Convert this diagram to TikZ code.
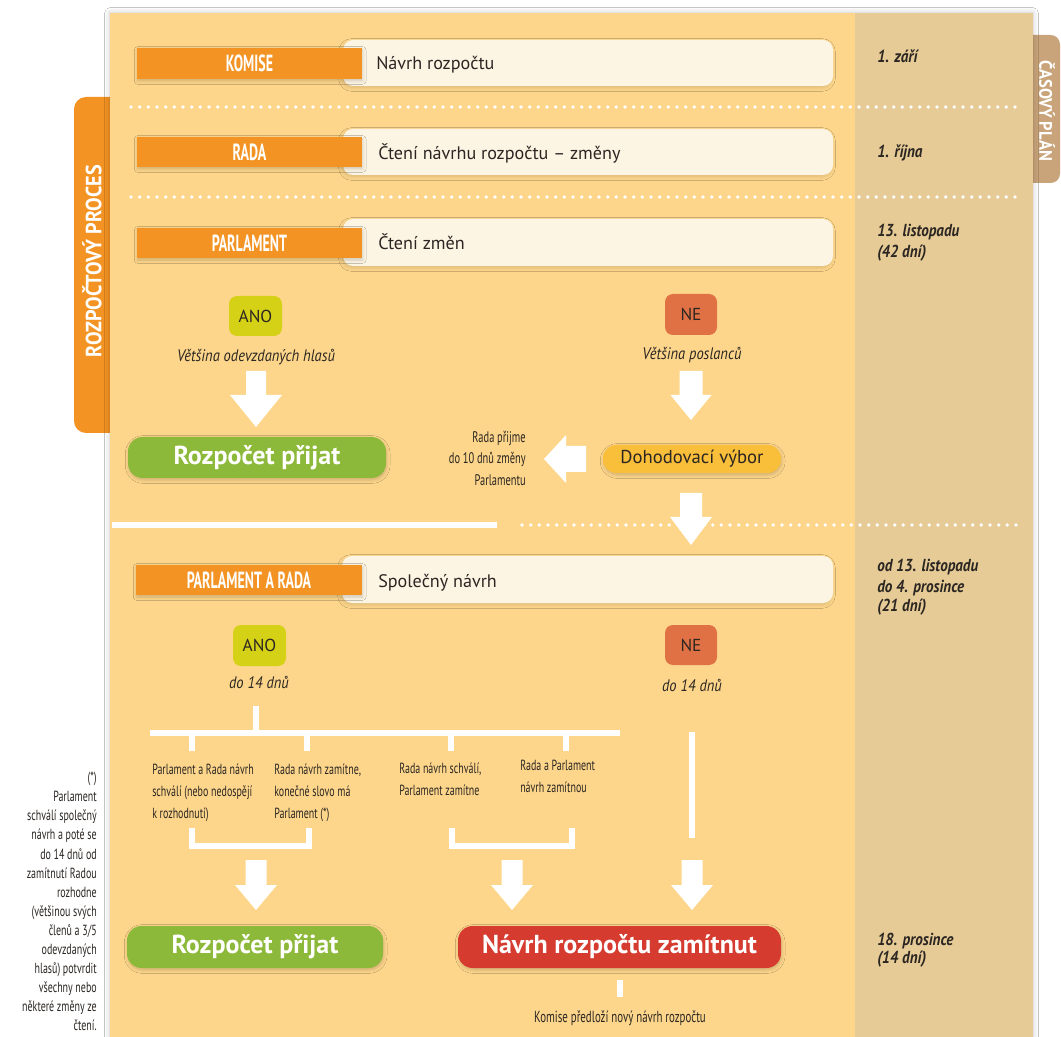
\documentclass[tikz,border=0pt]{standalone}
\usepackage{fontspec}
\setmainfont{PT Sans}
\newfontfamily\condfont[FakeStretch=0.68]{PT Sans}
\newfontfamily\barfont[FakeStretch=0.6]{PT Sans}
\newfontfamily\itfont[FakeStretch=0.87]{PT Sans}
\newfontfamily\tabfont[FakeStretch=0.92]{PT Sans}
\usetikzlibrary{shadows.blur}
\definecolor{panelC}{HTML}{FDD68B}
\definecolor{colC}{HTML}{E6CB96}
\definecolor{orangeC}{HTML}{F39323}
\definecolor{creamC}{HTML}{FDF5E4}
\definecolor{anoC}{HTML}{D5D116}
\definecolor{neC}{HTML}{E07145}
\definecolor{greenC}{HTML}{8DB93A}
\definecolor{redC}{HTML}{D63B30}
\definecolor{dohC}{HTML}{F9BE3A}
\definecolor{tanC}{HTML}{C9A47A}
\definecolor{txtC}{HTML}{2B2622}
\tikzset{pics/downarr/.style n args={4}{code={
  \fill[white] (-#1,0) -- (#1,0) -- (#1,#3) -- (#2,#3) -- (0,#4) -- (-#2,#3) -- (-#1,#3) -- cycle;}}}
\begin{document}
\begin{tikzpicture}[x=0.75pt,y=-0.75pt,
  sz/.style 2 args={minimum width=#1*0.75pt,minimum height=#2*0.75pt,inner sep=0pt,outer sep=0pt},
  shd/.style={blur shadow={shadow xshift=0.5pt,shadow yshift=-1.5pt,shadow blur radius=2.5pt,shadow opacity=18}},
  orangebar/.style={fill=orangeC,text=white,font=\barfont\bfseries\fontsize{17.5}{17.5}\selectfont,shd},
  creambox/.style={fill=creamC,rounded corners=7.5pt,blur shadow={shadow xshift=-0.8pt,shadow yshift=-1.5pt,shadow blur radius=2.5pt,shadow opacity=12}},
  boxtext/.style={anchor=base west,inner sep=0pt,text=txtC,font=\fontsize{13.6}{13.6}\selectfont},
  choice/.style={rounded corners=6pt,text=txtC,font=\fontsize{13}{13}\selectfont},
  note/.style={anchor=base,inner sep=0pt,text=txtC,font=\itfont\itshape\fontsize{12.5}{12.5}\selectfont},
  result/.style={rounded corners=11pt,text=white,font=\bfseries\fontsize{19.5}{19.5}\selectfont,shd},
  small/.style={inner sep=0pt,text=txtC,font=\condfont\fontsize{11}{16.5}\selectfont},
  datetxt/.style={anchor=base west,inner sep=0pt,text=txtC,font=\itfont\bfseries\itshape\fontsize{13}{13}\selectfont},
  wline/.style={draw=white,line width=4pt},
  dotline/.style={draw=white,line width=2.8pt,line cap=round,dash pattern=on 0pt off 6.5pt},
]
\useasboundingbox[fill=white] (0,0) rectangle (1061,1037);
% tabs and panel
\fill[orangeC,rounded corners=9pt] (74,97) rectangle (140,433);
\fill[tanC,rounded corners=7pt] (1000,35) rectangle (1060,183);
\fill[panelC,blur shadow={shadow xshift=0pt,shadow yshift=0pt,shadow blur radius=4pt,shadow opacity=22}] (110,13) rectangle (1033,1060);
\fill[colC] (855,13) rectangle (1033,1060);
\node[rotate=90,text=white,font=\tabfont\bfseries\fontsize{16.5}{16.5}\selectfont] (tabL) at (92,261) {ROZPOČTOVÝ PROCES};
\node[rotate=-90,text=white,font=\tabfont\bfseries\fontsize{13.5}{13.5}\selectfont] (tabR) at (1047,111) {ČASOVÝ PLÁN};
% row 1
\node[creambox,sz={490}{46}] (box1) at (588,63) {};
\node[orangebar,sz={225}{31}] (bar1) at (249.5,63.5) {KOMISE};
\node[boxtext] (txt1) at (376,70) {Návrh rozpočtu};
\node[datetxt] (date1) at (877,63) {1. září};
\coordinate (dotAl) at (131,107); \coordinate (dotAr) at (1022,107);
\draw[dotline] (dotAl) -- (dotAr);
% row 2
\node[creambox,sz={490}{46}] (box2) at (588,152) {};
\node[orangebar,sz={225}{30}] (bar2) at (249.5,152) {RADA};
\node[boxtext] (txt2) at (378,160) {Čtení návrhu rozpočtu – změny};
\node[datetxt] (date2) at (877,158) {1. října};
\coordinate (dotBl) at (131,197); \coordinate (dotBr) at (1022,197);
\draw[dotline] (dotBl) -- (dotBr);
% row 3
\node[creambox,sz={490}{47}] (box3) at (588,242.5) {};
\node[orangebar,sz={225}{30}] (bar3) at (249.5,243) {PARLAMENT};
\node[boxtext] (txt3) at (378,250) {Čtení změn};
\node[datetxt] (date3a) at (877,237) {13. listopadu};
\node[datetxt] (date3b) at (877,258) {(42 dní)};
% ANO / NE first vote
\node[choice,fill=anoC,sz={53}{40}] (ano1) at (255.5,316) {ANO};
\node[note] (ano1n) at (256,362) {Většina odevzdaných hlasů};
\coordinate (a1) at (256,371);
\pic at (a1) {downarr={10}{26}{24}{56}};
\node[result,fill=greenC,sz={258}{41}] (ok1) at (257,457.5) {Rozpočet přijat};
\node[choice,fill=neC,sz={52}{41}] (ne1) at (691,314.5) {NE};
\node[note] (ne1n) at (692,360) {Většina poslanců};
\coordinate (a2) at (691,371);
\pic at (a2) {downarr={11.5}{20.5}{24}{49}};
\node[fill=dohC,rounded corners=10pt,sz={178}{28},text=txtC,font=\fontsize{14}{14}\selectfont,shd] (doh) at (692,459) {Dohodovací výbor};
\coordinate (la) at (544,459);
\fill[white] (la) -- ++(22,-24) -- ++(0,11) -- ++(20,0) -- ++(0,26) -- ++(-20,0) -- ++(0,11) -- cycle;
\node[small,anchor=north east,align=right,font=\condfont\fontsize{11.5}{16}\selectfont] (radaN) at (526,431) {Rada přijme\\do 10 dnů změny\\Parlamentu};
% divider
\coordinate (divA) at (112,525); \coordinate (divB) at (497,525);
\coordinate (divC) at (522,525); \coordinate (divD) at (1022,525);
\draw[wline] (divA) -- (divB);
\draw[dotline] (divC) -- (divD);
\coordinate (a3) at (691,493);
\pic at (a3) {downarr={11}{21}{24}{52}};
% section 2
\node[creambox,sz={491}{47}] (box4) at (587.5,579.5) {};
\node[orangebar,sz={226}{30}] (bar4) at (249,580) {PARLAMENT A RADA};
\node[boxtext] (txt4) at (378,587) {Společný návrh};
\node[datetxt] (date4a) at (877,571) {od 13. listopadu};
\node[datetxt] (date4b) at (877,592) {do 4. prosince};
\node[datetxt] (date4c) at (877,611) {(21 dní)};
\node[choice,fill=anoC,sz={53}{41}] (ano2) at (259.5,645.5) {ANO};
\node[note] (ano2n) at (259,688) {do 14 dnů};
\node[choice,fill=neC,sz={52}{40}] (ne2) at (691,645) {NE};
\node[note] (ne2n) at (692,691) {do 14 dnů};
% tree
\coordinate (tTop) at (256,706); \coordinate (tMid) at (256,733);
\coordinate (tL) at (150,733); \coordinate (tR) at (620,733);
\draw[wline] (tTop) -- (tMid);
\draw[wline] (tL) -- (tR);
\foreach \x/\n in {192/b1,307/b2,451/b3,566/b4} {\coordinate (\n) at (\x,733); \draw[wline] (\n) -- ++(0,18);}
\node[small,anchor=north west,align=left] (c1) at (152,763.5) {Parlament a Rada návrh\\schválí (nebo nedospějí\\k rozhodnutí)};
\node[small,anchor=north west,align=left] (c2) at (274,763.5) {Rada návrh zamítne,\\konečné slovo má\\Parlament (*)};
\node[small,anchor=north west,align=left] (c3) at (399,762.5) {Rada návrh schválí,\\Parlament zamítne};
\node[small,anchor=north west,align=left] (c4) at (520,759.5) {Rada a Parlament\\návrh zamítnou};
\coordinate (k1a) at (192,828); \coordinate (k1b) at (309,828);
\draw[wline] (k1a) |- (250,846) -| (k1b);
\coordinate (k2a) at (452,828); \coordinate (k2b) at (572,828);
\draw[wline] (k2a) |- (510,846) -| (k2b);
\coordinate (v1) at (692,732); \coordinate (v2) at (692,838);
\draw[wline] (v1) -- (v2);
\coordinate (a4) at (256,860); \coordinate (a5) at (512,860); \coordinate (a6) at (692,860);
\pic at (a4) {downarr={10.5}{21}{25}{50}};
\pic at (a5) {downarr={10.5}{21}{25}{50}};
\pic at (a6) {downarr={10.5}{21}{25}{50}};
% results
\node[result,fill=greenC,sz={256}{42}] (ok2) at (255,947) {Rozpočet přijat};
\node[result,fill=redC,sz={323}{42}] (nok) at (619.5,947) {Návrh rozpočtu zamítnut};
\node[datetxt] (date5a) at (877,945) {18. prosince};
\node[datetxt] (date5b) at (877,963) {(14 dní)};
\coordinate (s1) at (620,980); \coordinate (s2) at (620,997);
\draw[wline] (s1) -- (s2);
\node[small,anchor=base,font=\condfont\fontsize{12}{12}\selectfont] (kom) at (620,1022) {Komise předloží nový návrh rozpočtu};
% footnote
\node[small,anchor=north east,align=right,font=\condfont\fontsize{11}{14.3}\selectfont] (fn) at (97,772) {(*)\\Parlament\\schválí společný\\návrh a poté se\\do 14 dnů od\\zamítnutí Radou\\rozhodne\\(většinou svých\\členů a 3/5\\odevzdaných\\hlasů) potvrdit\\všechny nebo\\některé změny ze\\čtení.};
\end{tikzpicture}
\end{document}
